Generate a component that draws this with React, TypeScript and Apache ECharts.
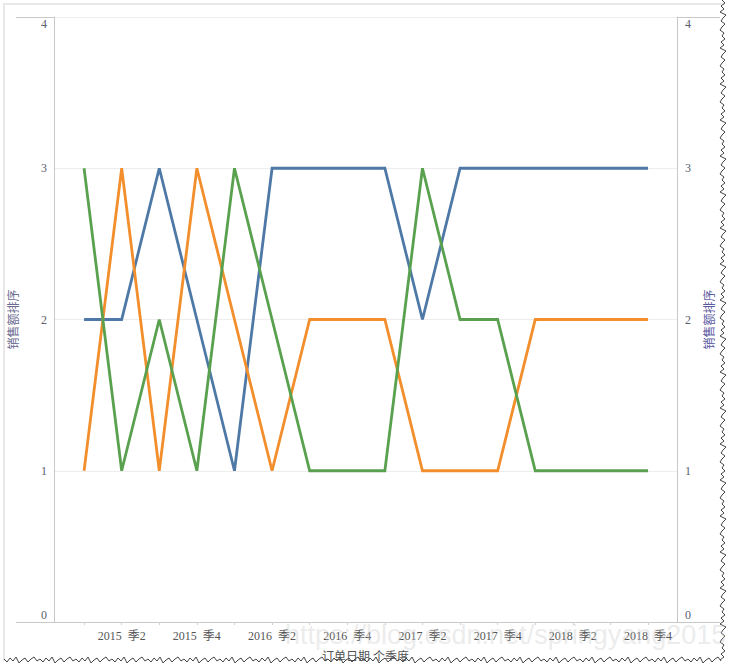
import React, { useEffect, useRef } from "react";
import * as echarts from "echarts";

const quarters = [
  "2015  季1", "2015  季2", "2015  季3", "2015  季4",
  "2016  季1", "2016  季2", "2016  季3", "2016  季4",
  "2017  季1", "2017  季2", "2017  季3", "2017  季4",
  "2018  季1", "2018  季2", "2018  季3", "2018  季4",
];
const blueRank = [2, 2, 3, 2, 1, 3, 3, 3, 3, 2, 3, 3, 3, 3, 3, 3];
const orangeRank = [1, 3, 1, 3, 2, 1, 2, 2, 2, 1, 1, 1, 2, 2, 2, 2];
const greenRank = [3, 1, 2, 1, 3, 2, 1, 1, 1, 3, 2, 2, 1, 1, 1, 1];
const labelEvery = 2;

const FONT = '"Liberation Serif", "Noto Sans CJK SC", serif';

function zig(start: number, end: number, fixed: number, vertical: boolean) {
  const pts: number[][] = [];
  const offs = [0, 3, -1, 2, -2, 4, 1, -1, 3, 0, -2, 2];
  let k = 0;
  for (let p = start; p <= end; p += 3) {
    const o = offs[k % offs.length];
    pts.push(vertical ? [fixed + o, p] : [p, fixed + o]);
    k++;
  }
  return pts;
}

export default function App() {
  const ref = useRef<HTMLDivElement>(null);
  useEffect(() => {
    if (!ref.current) return;
    const chart = echarts.init(ref.current, null, { renderer: "svg" });
    const toPairs = (arr: number[]) => arr.map((v, i) => [i, v]);
    const mk = (name: string, arr: number[], color: string) => ({
      name,
      type: "line",
      data: toPairs(arr),
      yAxisIndex: 0,
      showSymbol: false,
      symbol: "none",
      lineStyle: { color, width: 2.8, join: "miter" },
      itemStyle: { color },
    });
    const labelVals = quarters.map((_, i) => i).filter((i) => i % labelEvery === 1);
    const tickVals = quarters.map((_, i) => i);
    const yLabel = (v: number) => (v === 4 ? "{t|4}" : v === 0 ? "{b|0}" : String(v));
    const rich = {
      t: { padding: [14, 0, 0, 0], color: "#5a6070", fontFamily: FONT, fontSize: 12 },
      b: { padding: [0, 0, 14, 0], color: "#5a6070", fontFamily: FONT, fontSize: 12 },
    };
    chart.setOption({
      animation: false,
      backgroundColor: "#ffffff",
      grid: { left: 54, right: 56, top: 17, bottom: 49, containLabel: false },
      xAxis: {
        type: "value",
        min: -0.8,
        max: 15.77,
        name: "订单日期 个季度",
        nameLocation: "middle",
        nameGap: 29,
        nameTextStyle: { color: "#555", fontFamily: FONT, fontSize: 12 },
        axisLine: { show: true, onZero: false, lineStyle: { color: "#c8c8c8", width: 1 } },
        axisTick: { show: true, length: 3, customValues: tickVals, lineStyle: { color: "#d0d0d0" } },
        axisLabel: {
          customValues: labelVals,
          formatter: (v: number) => quarters[Math.round(v)] ?? "",
          color: "#555",
          fontFamily: FONT,
          fontSize: 12,
          margin: 8,
        },
        splitLine: { show: false },
      },
      yAxis: [
        {
          type: "value",
          min: 0,
          max: 4,
          interval: 1,
          position: "left",
          name: "销售额排序",
          nameLocation: "middle",
          nameGap: 34,
          nameRotate: 90,
          nameTextStyle: { color: "#6a6a90", fontFamily: FONT, fontSize: 12 },
          axisLine: { show: true, onZero: false, lineStyle: { color: "#c8c8c8" } },
          axisTick: { show: false },
          axisLabel: { formatter: yLabel, rich, color: "#5a6070", fontFamily: FONT, fontSize: 12, margin: 7 },
          splitLine: { show: true, lineStyle: { color: "#ededed", width: 1 } },
        },
        {
          type: "value",
          min: 0,
          max: 4,
          interval: 1,
          position: "right",
          name: "销售额排序",
          nameLocation: "middle",
          nameGap: 27,
          nameRotate: 90,
          nameTextStyle: { color: "#5a5aa0", fontFamily: FONT, fontSize: 12 },
          axisLine: { show: true, onZero: false, lineStyle: { color: "#c8c8c8" } },
          axisTick: { show: false },
          axisLabel: { formatter: yLabel, rich, color: "#5a6070", fontFamily: FONT, fontSize: 12, margin: 8 },
          splitLine: { show: false },
        },
      ],
      series: [
        mk("蓝", blueRank, "#4e79a7"),
        mk("橙", orangeRank, "#f28e2b"),
        mk("绿", greenRank, "#59a14f"),
      ],
      graphic: [
        {
          type: "rect",
          shape: { x: 4, y: 4, width: 730, height: 670 },
          style: { fill: "none", stroke: "#e8e8e8", lineWidth: 2 },
          z: 0,
          silent: true,
        },
        {
          type: "line",
          shape: { x1: 16, y1: 17.5, x2: 720, y2: 17.5 },
          style: { stroke: "#c8c8c8", lineWidth: 1 },
          silent: true,
        },
        {
          type: "line",
          shape: { x1: 16, y1: 622.5, x2: 720, y2: 622.5 },
          style: { stroke: "#c8c8c8", lineWidth: 1 },
          silent: true,
        },
        {
          type: "text",
          left: 285,
          top: 621,
          style: {
            text: "https://blog.csdn.net/springyang2015",
            fontSize: 27,
            fontFamily: '"Liberation Sans", Arial, sans-serif',
            fill: "rgba(200,200,200,0.35)",
          },
          z: 100,
          silent: true,
        },
        {
          type: "rect",
          shape: { x: 724, y: 0, width: 9, height: 671 },
          style: { fill: "#ffffff" },
          z: 90,
          silent: true,
        },
        {
          type: "rect",
          shape: { x: 0, y: 661, width: 733, height: 10 },
          style: { fill: "#ffffff" },
          z: 90,
          silent: true,
        },
        {
          type: "polyline",
          shape: { points: zig(0, 662, 722, true) },
          style: { stroke: "#444", lineWidth: 1, fill: "none" },
          z: 95,
          silent: true,
        },
        {
          type: "polyline",
          shape: { points: zig(4, 722, 659, false) },
          style: { stroke: "#444", lineWidth: 1, fill: "none" },
          z: 95,
          silent: true,
        },
      ],
    });
    return () => chart.dispose();
  }, []);
  return (
    <div
      ref={ref}
      style={{ position: "fixed", left: 0, top: 0, width: 733, height: 671, background: "#fff" }}
    />
  );
}
